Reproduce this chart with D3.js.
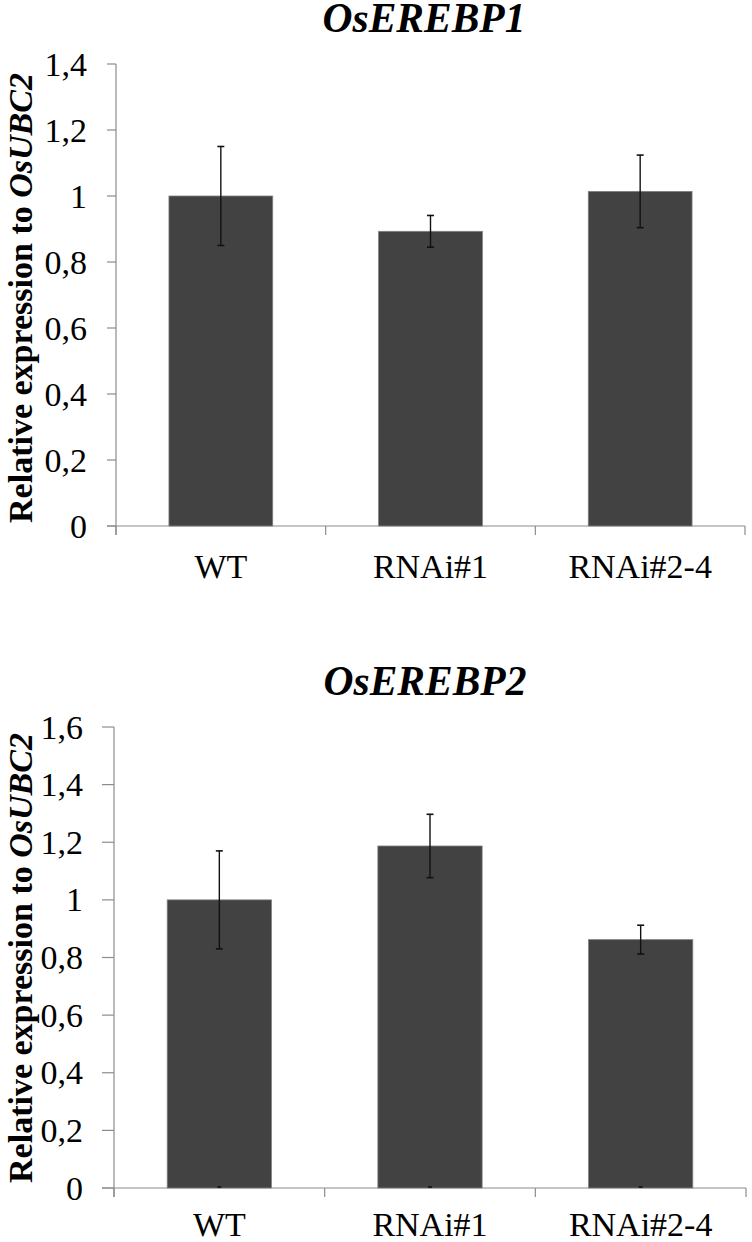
<!DOCTYPE html>
<html><head><meta charset="utf-8">
<script src="https://cdn.jsdelivr.net/npm/d3@7"></script>
<style>body{margin:0;background:#fff}svg{display:block}</style>
</head><body>
<svg id="c" width="752" height="1242"></svg>
<script>
const categories = ["WT", "RNAi#1", "RNAi#2-4"];
const titles = ["OsEREBP1", "OsEREBP2"];
const values1 = [1.0, 0.893, 1.014];
const errors1 = [0.15, 0.048, 0.11];
const values2 = [1.0, 1.187, 0.862];
const errors2 = [0.17, 0.11, 0.05];
const ticks1 = [0, 0.2, 0.4, 0.6, 0.8, 1, 1.2, 1.4];
const ticks2 = [0, 0.2, 0.4, 0.6, 0.8, 1, 1.2, 1.4, 1.6];
const tickLabels1 = ["0", "0,2", "0,4", "0,6", "0,8", "1", "1,2", "1,4"];
const tickLabels2 = ["0", "0,2", "0,4", "0,6", "0,8", "1", "1,2", "1,4", "1,6"];

const svg = d3.select("#c");
const serif = "Liberation Serif";

function panel(cfg) {
  const g = svg.append("g");
  const x = d3.scaleBand().domain(categories).range([cfg.xl, cfg.xr]).padding(0);
  const y = d3.scaleLinear().domain([0, cfg.ymax]).range([cfg.yb, cfg.yt]);
  const bw = x.bandwidth() * 0.495;
  const axisCol = "#8c8c8c";

  g.append("line").attr("x1", cfg.xl).attr("x2", cfg.xl)
    .attr("y1", y(cfg.ymax)).attr("y2", cfg.yb + 9)
    .attr("stroke", axisCol).attr("stroke-width", 1.2);
  cfg.ticks.forEach((t, i) => {
    g.append("line").attr("x1", cfg.xl - cfg.tl).attr("x2", cfg.xl)
      .attr("y1", y(t)).attr("y2", y(t)).attr("stroke", axisCol).attr("stroke-width", 1.2);
    g.append("text").attr("x", cfg.labX).attr("y", y(t)).attr("dy", "0.34em")
      .attr("text-anchor", "end").style("font-family", serif).style("font-size", "34px")
      .text(cfg.tickLabels[i]);
  });
  g.append("line").attr("x1", cfg.xl - cfg.tl).attr("x2", cfg.xr)
    .attr("y1", cfg.yb).attr("y2", cfg.yb).attr("stroke", axisCol).attr("stroke-width", 1.2);
  const bounds = categories.map(c => x(c)).concat([cfg.xr]);
  bounds.forEach(b => {
    g.append("line").attr("x1", b).attr("x2", b).attr("y1", cfg.yb).attr("y2", cfg.yb + 9)
      .attr("stroke", axisCol).attr("stroke-width", 1.2);
  });
  g.selectAll("rect.bar").data(categories).enter().append("rect")
    .attr("x", c => x(c) + x.bandwidth() / 2 - bw / 2)
    .attr("width", bw)
    .attr("y", (c, i) => y(cfg.values[i]))
    .attr("height", (c, i) => cfg.yb - y(cfg.values[i]))
    .attr("fill", "#424242").attr("stroke", "#808080").attr("stroke-width", 0.8);
  categories.forEach((c, i) => {
    const cx = x(c) + x.bandwidth() / 2;
    const hi = y(cfg.values[i] + cfg.errors[i]), lo = y(cfg.values[i] - cfg.errors[i]);
    g.append("line").attr("x1", cx).attr("x2", cx).attr("y1", hi).attr("y2", lo)
      .attr("stroke", "#111").attr("stroke-width", 1.4);
    [hi, lo].forEach(yy => g.append("line").attr("x1", cx - 3.5).attr("x2", cx + 3.5)
      .attr("y1", yy).attr("y2", yy).attr("stroke", "#111").attr("stroke-width", 1.6));
    if (cfg.zeroMark) {
      g.append("line").attr("x1", cx - 2).attr("x2", cx + 2)
        .attr("y1", cfg.yb - 1).attr("y2", cfg.yb - 1).attr("stroke", "#111").attr("stroke-width", 1.6);
    }
    g.append("text").attr("x", cx).attr("y", cfg.catY).attr("text-anchor", "middle")
      .style("font-family", serif).style("font-size", "34px").text(c);
  });
  g.append("text").attr("x", cfg.titleX).attr("y", cfg.titleY).attr("text-anchor", "middle")
    .style("font-family", serif).style("font-size", "41.5px").style("font-weight", "bold")
    .style("font-style", "italic").text(cfg.title);
  const yl = g.append("text")
    .attr("transform", `translate(32,${cfg.ylabY}) rotate(-90)`)
    .attr("text-anchor", "middle").style("font-family", serif).style("font-size", "34px")
    .style("font-weight", "bold");
  yl.append("tspan").text("Relative expression to ");
  yl.append("tspan").style("font-style", "italic").text("OsUBC2");
}

panel({title: titles[0], values: values1, errors: errors1, ticks: ticks1, tickLabels: tickLabels1,
  ymax: 1.4, xl: 116, xr: 745, yb: 526, yt: 64, tl: 9, labX: 87, catY: 578,
  titleX: 424, titleY: 32, ylabY: 298, zeroMark: false});
panel({title: titles[1], values: values2, errors: errors2, ticks: ticks2, tickLabels: tickLabels2,
  ymax: 1.6, xl: 114, xr: 746, yb: 1188, yt: 727, tl: 12, labX: 83, catY: 1236,
  titleX: 425, titleY: 695, ylabY: 958, zeroMark: true});
</script>
</body></html>
